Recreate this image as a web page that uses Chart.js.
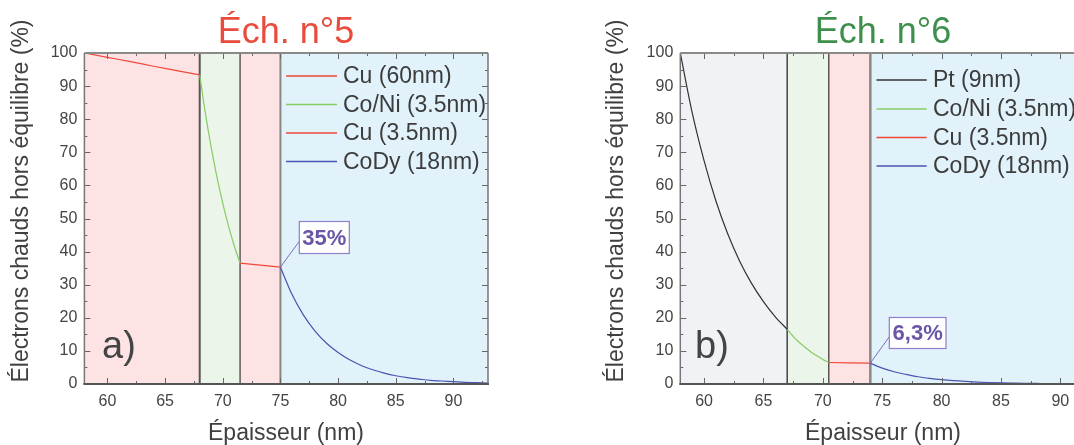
<!DOCTYPE html>
<html>
<head>
<meta charset="utf-8">
<script src="https://cdn.jsdelivr.net/npm/chart.js@4.4.0/dist/chart.umd.min.js"></script>
<style>
  html, body { margin: 0; padding: 0; background: #fff; overflow: hidden; width: 1074px; height: 445px; }
  canvas { position: absolute; top: 0; }
  #chartA { left: 0; }
  #chartB { left: 540px; }
</style>
</head>
<body>
<canvas id="chartA" width="540" height="445"></canvas>
<canvas id="chartB" width="580" height="445"></canvas>
<script>
// tick labels shared by both panels
const xTicks = [60, 65, 70, 75, 80, 85, 90];
const yTicks = [0, 10, 20, 30, 40, 50, 60, 70, 80, 90, 100];

// --- panel a) : Éch. n°5 ---
const edgesA = [58, 68, 71.5, 75, 93];
const cu60X = [58, 60, 62, 64, 66, 68];
const cu60Y = [100, 98.7, 97.4, 96.0, 94.7, 93.4];
const coniAX = [68, 68.5, 69, 69.5, 70, 70.5, 71, 71.5];
const coniAY = [93.4, 81.6, 71.4, 62.4, 54.6, 47.7, 41.7, 36.5];
const cuThinAX = [71.5, 75];
const cuThinAY = [36.5, 35.3];
const codyAX = [75, 76, 77, 78, 79, 80, 81, 82, 83, 84, 85, 86, 87, 88, 89, 90, 91, 92, 93];
const codyAY = [35.3, 27.1, 20.8, 16.0, 12.3, 9.5, 7.3, 5.6, 4.3, 3.3, 2.5, 1.9, 1.5, 1.1, 0.9, 0.7, 0.5, 0.4, 0.3];

// --- panel b) : Éch. n°6 ---
const edgesB = [58, 67, 70.5, 74, 93];
const ptBX = [58, 59, 60, 61, 62, 63, 64, 65, 66, 67];
const ptBY = [100, 82, 67.5, 55.3, 45.3, 37.1, 30.4, 24.9, 20.3, 16.5];
const coniBX = [67, 67.5, 68, 68.5, 69, 69.5, 70, 70.5];
const coniBY = [16.5, 14.4, 12.6, 11.1, 9.7, 8.5, 7.4, 6.5];
const cuThinBX = [70.5, 74];
const cuThinBY = [6.5, 6.3];
const codyBX = [74, 75, 76, 77, 78, 79, 80, 81, 82, 83, 84, 85, 86, 87, 88, 89, 90, 91, 92, 93];
const codyBY = [6.3, 4.8, 3.7, 2.9, 2.2, 1.7, 1.3, 1.0, 0.77, 0.59, 0.45, 0.35, 0.27, 0.2, 0.16, 0.12, 0.09, 0.07, 0.05, 0.04];

const FONT = "'Liberation Sans', Arial, Helvetica, sans-serif";
const RED = "#f0493a", GREEN = "#86cc62", BLUE = "#4b54b0", BLACK = "#333333";

function pts(xs, ys) {
  return xs.map((v, i) => ({ x: v, y: ys[i] }));
}

function series(label, xs, ys, color) {
  return {
    label: label,
    data: pts(xs, ys),
    borderColor: color,
    borderWidth: 1.2,
    pointRadius: 0,
    showLine: true,
    cubicInterpolationMode: "monotone",
    fill: false,
  };
}

// everything around the curves: shaded layers, frame, inward ticks, legend, notes
function panelPlugin(p) {
  return {
    id: "panel" + p.tag,
    beforeDatasetsDraw(chart) {
      const { ctx, chartArea: a, scales: { x } } = chart;
      ctx.save();
      p.fills.forEach((c, i) => {
        const x0 = x.getPixelForValue(p.edges[i]);
        const x1 = x.getPixelForValue(p.edges[i + 1]);
        ctx.fillStyle = c;
        ctx.fillRect(x0, a.top, x1 - x0, a.bottom - a.top);
      });
      // layer boundaries
      p.walls.forEach(w => {
        const px = x.getPixelForValue(p.edges[w.i]);
        ctx.strokeStyle = w.color;
        ctx.lineWidth = w.width;
        ctx.beginPath();
        ctx.moveTo(px, a.top);
        ctx.lineTo(px, a.bottom);
        ctx.stroke();
      });
      ctx.restore();
    },
    afterDatasetsDraw(chart) {
      const { ctx, chartArea: a, scales: { x, y } } = chart;
      ctx.save();

      // inward ticks on all four sides (major + one minor between)
      ctx.strokeStyle = "#666";
      ctx.lineWidth = 1;
      ctx.beginPath();
      xTicks.forEach(v => {
        [[v, 6], [v + 2.5, 3]].forEach(([t, len]) => {
          if (t > 93) return;
          const px = Math.round(x.getPixelForValue(t)) + 0.5;
          ctx.moveTo(px, a.bottom); ctx.lineTo(px, a.bottom - len);
          ctx.moveTo(px, a.top); ctx.lineTo(px, a.top + len);
        });
      });
      yTicks.forEach(v => {
        [[v, 6], [v + 5, 3]].forEach(([t, len]) => {
          if (t > 100) return;
          const py = Math.round(y.getPixelForValue(t)) + 0.5;
          ctx.moveTo(a.left, py); ctx.lineTo(a.left + len, py);
          ctx.moveTo(a.right, py); ctx.lineTo(a.right - len, py);
        });
      });
      ctx.stroke();

      // frame
      ctx.lineWidth = 2;
      ctx.strokeStyle = "#8a8a8a";
      ctx.beginPath();
      ctx.moveTo(a.left, a.top); ctx.lineTo(a.right, a.top);
      ctx.stroke();
      ctx.lineWidth = 1.5;
      ctx.strokeStyle = "#777";
      ctx.beginPath();
      ctx.moveTo(a.left, a.top); ctx.lineTo(a.left, a.bottom);
      ctx.moveTo(a.right, a.top); ctx.lineTo(a.right, a.bottom);
      ctx.stroke();
      ctx.lineWidth = 2.2;
      ctx.strokeStyle = "#555";
      ctx.beginPath();
      ctx.moveTo(a.left - 1, a.bottom); ctx.lineTo(a.right + 1, a.bottom);
      ctx.stroke();

      // legend
      ctx.font = "23px " + FONT;
      ctx.textBaseline = "middle";
      ctx.textAlign = "left";
      chart.data.datasets.forEach((ds, i) => {
        const ly = p.legend.rows[i];
        ctx.strokeStyle = ds.borderColor;
        ctx.lineWidth = 1.5;
        ctx.beginPath();
        ctx.moveTo(p.legend.x0, ly); ctx.lineTo(p.legend.x1, ly);
        ctx.stroke();
        ctx.fillStyle = "#3c3c3c";
        ctx.fillText(ds.label, p.legend.tx, ly + 1);
      });

      // value note with its leader line
      const n = p.note;
      const nx = x.getPixelForValue(n.x), ny = y.getPixelForValue(n.y);
      ctx.strokeStyle = "#7b6cc2";
      ctx.lineWidth = 1;
      ctx.beginPath();
      ctx.moveTo(nx, ny); ctx.lineTo(n.box[0], n.box[1] + n.box[3] * 0.62);
      ctx.stroke();
      ctx.fillStyle = "#fff";
      ctx.fillRect(n.box[0], n.box[1], n.box[2], n.box[3]);
      ctx.strokeStyle = "#8f7fc6";
      ctx.lineWidth = 1.2;
      ctx.strokeRect(n.box[0], n.box[1], n.box[2], n.box[3]);
      ctx.fillStyle = "#6b55a7";
      ctx.font = "bold 22px " + FONT;
      ctx.textAlign = "center";
      ctx.textBaseline = "middle";
      ctx.fillText(n.text, n.box[0] + n.box[2] / 2, n.box[1] + n.box[3] / 2 + 1);

      // panel tag a) / b)
      ctx.fillStyle = "#444";
      ctx.font = "38px " + FONT;
      ctx.textAlign = "left";
      ctx.textBaseline = "alphabetic";
      ctx.fillText(p.tag, p.tagX, 358);

      // title
      ctx.fillStyle = p.titleColor;
      ctx.font = "36px " + FONT;
      ctx.textAlign = "center";
      ctx.fillText(p.title, p.titleX, 43);

      // axis titles
      ctx.fillStyle = "#404040";
      ctx.font = "23px " + FONT;
      ctx.fillText("Épaisseur (nm)", p.titleX, 440);
      ctx.translate(p.yTitleX, 201);
      ctx.rotate(-Math.PI / 2);
      ctx.textBaseline = "middle";
      ctx.fillText("Électrons chauds hors équilibre (%)", 0, 0);

      ctx.restore();
    },
  };
}

function makePanel(canvasId, p) {
  const ctx = document.getElementById(canvasId).getContext("2d");
  const tickFont = { size: 16, family: FONT };
  return new Chart(ctx, {
    type: "scatter",
    data: { datasets: p.datasets },
    options: {
      responsive: false,
      animation: false,
      events: [],
      layout: { padding: { top: 53, left: 0, bottom: 0, right: p.canvasW - p.plotRight } },
      plugins: { legend: { display: false }, tooltip: { enabled: false } },
      scales: {
        x: {
          type: "linear",
          min: 58,
          max: 93,
          afterBuildTicks(s) { s.ticks = xTicks.map(v => ({ value: v })); },
          ticks: { font: tickFont, color: "#444", padding: 8 },
          grid: { display: false, drawTicks: false },
          border: { display: false },
          afterFit(s) { s.height = 61; },
        },
        y: {
          type: "linear",
          min: 0,
          max: 100,
          afterBuildTicks(s) { s.ticks = yTicks.map(v => ({ value: v })); },
          ticks: { font: tickFont, color: "#444", padding: 7 },
          grid: { display: false, drawTicks: false },
          border: { display: false },
          afterFit(s) { s.width = p.plotLeft; },
        },
      },
    },
    plugins: [panelPlugin(p)],
  });
}

makePanel("chartA", {
  tag: "a)",
  tagX: 102,
  title: "Éch. n°5",
  titleColor: "#e94b3c",
  titleX: 286,
  yTitleX: 22,
  canvasW: 540,
  plotLeft: 84.4,
  plotRight: 488,
  edges: edgesA,
  fills: ["#fde3e3", "#ebf5e9", "#fde3e3", "#e1f2fb"],
  walls: [
    { i: 1, color: "#555", width: 2 },
    { i: 2, color: "#444", width: 1.3 },
    { i: 3, color: "#888", width: 2 },
  ],
  legend: { x0: 286, x1: 337, tx: 343, rows: [76, 104.5, 133, 161.5] },
  note: { x: 75, y: 35.3, text: "35%", box: [299.3, 221.5, 50, 32] },
  datasets: [
    series("Cu (60nm)", cu60X, cu60Y, RED),
    series("Co/Ni (3.5nm)", coniAX, coniAY, GREEN),
    series("Cu (3.5nm)", cuThinAX, cuThinAY, RED),
    series("CoDy (18nm)", codyAX, codyAY, BLUE),
  ],
});

makePanel("chartB", {
  tag: "b)",
  tagX: 155,
  title: "Éch. n°6",
  titleColor: "#3f8f4c",
  titleX: 343,
  yTitleX: 76.6,
  canvasW: 580,
  plotLeft: 140.3,
  plotRight: 556,
  edges: edgesB,
  fills: ["#f1f2f5", "#ebf5e9", "#fde3e3", "#e1f2fb"],
  walls: [
    { i: 1, color: "#444", width: 1.5 },
    { i: 2, color: "#555", width: 1.5 },
    { i: 3, color: "#888", width: 2.5 },
  ],
  legend: { x0: 336.5, x1: 386.7, tx: 393, rows: [80, 109, 137.5, 166] },
  note: { x: 74, y: 6.3, text: "6,3%", box: [349.3, 317.5, 56.7, 31] },
  datasets: [
    series("Pt (9nm)", ptBX, ptBY, BLACK),
    series("Co/Ni (3.5nm)", coniBX, coniBY, GREEN),
    series("Cu (3.5nm)", cuThinBX, cuThinBY, RED),
    series("CoDy (18nm)", codyBX, codyBY, BLUE),
  ],
});
</script>
</body>
</html>
